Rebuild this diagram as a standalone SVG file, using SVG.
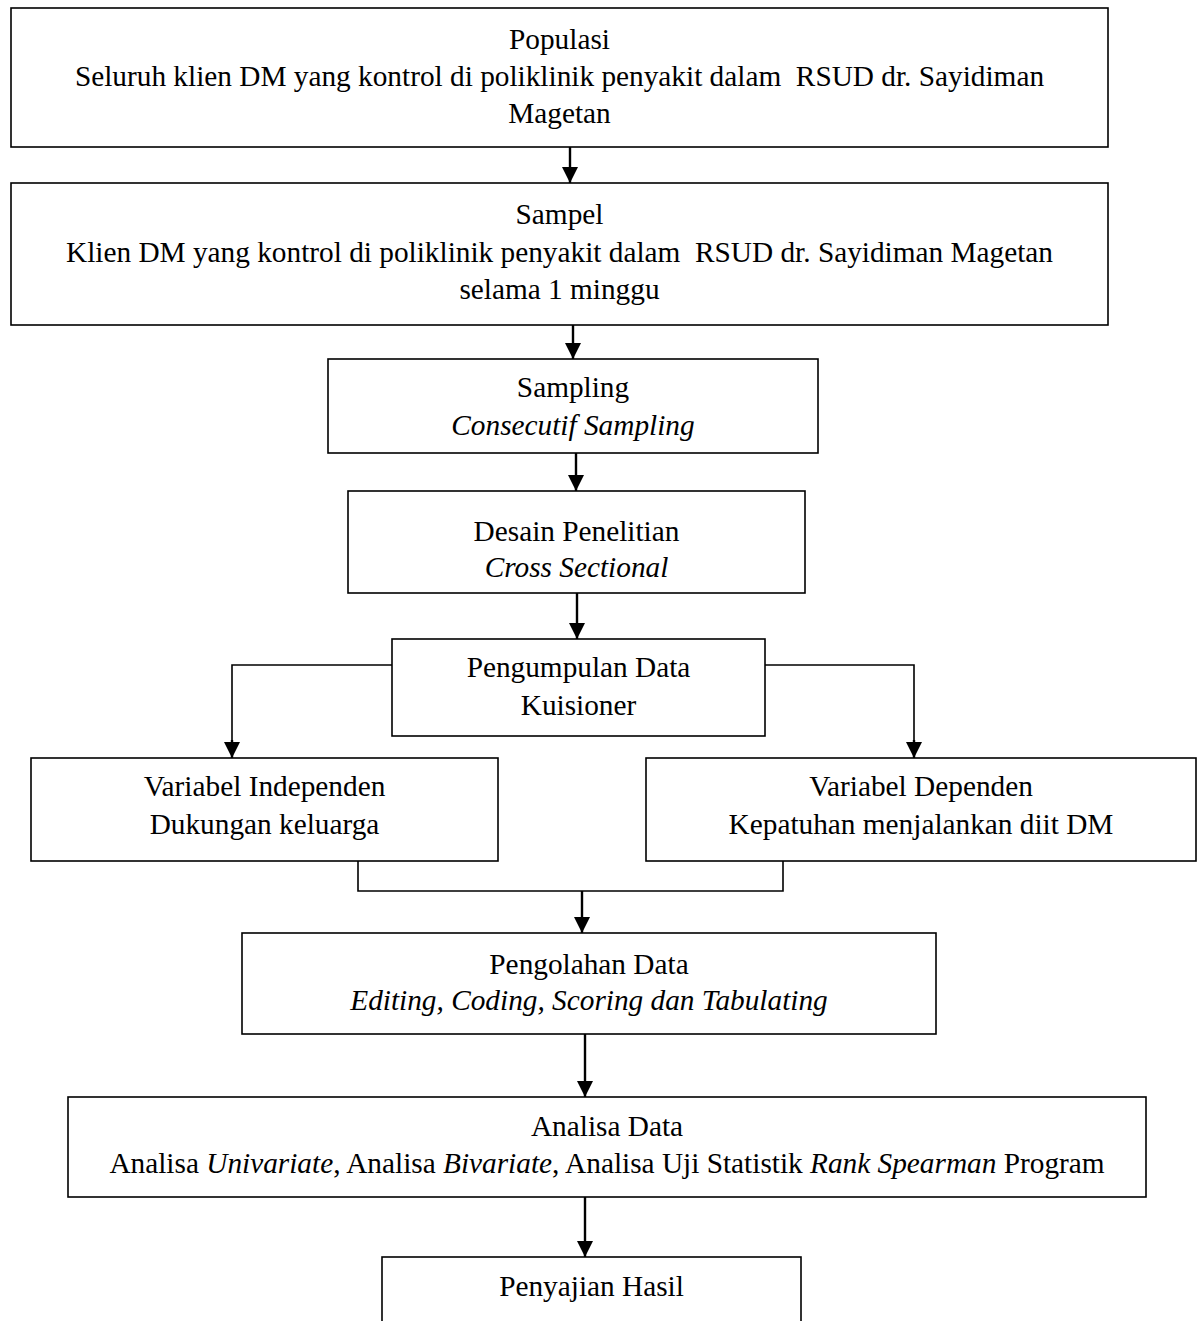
<svg xmlns="http://www.w3.org/2000/svg" width="1203" height="1321" viewBox="0 0 1203 1321">
<defs>
<marker id="ah" markerUnits="userSpaceOnUse" markerWidth="16" markerHeight="16" viewBox="0 0 16 16" refX="16" refY="8" orient="auto">
<path d="M0,0 L16,8 L0,16 Z" fill="#000"/>
</marker>
<style>
.box{fill:#fff;stroke:#000;stroke-width:1.6}
.t{font-family:"Liberation Serif","Times New Roman",serif;font-size:29.3px;fill:#000;text-anchor:middle;white-space:pre}
.i{font-style:italic}
.arr{fill:none;stroke:#000;stroke-width:2.4;marker-end:url(#ah)}
.ln{fill:none;stroke:#000;stroke-width:1.6}
</style>
</defs>
<rect width="1203" height="1321" fill="#fff"/>
<g id="connectors">
<line class="arr" x1="570" y1="147" x2="570" y2="183"/>
<line class="arr" x1="573" y1="325" x2="573" y2="359"/>
<line class="arr" x1="576" y1="453" x2="576" y2="491"/>
<line class="arr" x1="577" y1="593" x2="577" y2="639"/>
<polyline class="ln" points="392,665 232,665 232,742"/>
<line class="arr" x1="232" y1="740" x2="232" y2="758"/>
<polyline class="ln" points="765,665 914,665 914,742"/>
<line class="arr" x1="914" y1="740" x2="914" y2="758"/>
<polyline class="ln" points="358,861 358,891 783,891 783,861"/>
<line class="arr" x1="582" y1="891" x2="582" y2="933"/>
<line class="arr" x1="585" y1="1034" x2="585" y2="1097"/>
<line class="arr" x1="585" y1="1197" x2="585" y2="1257"/>
</g>
<g id="populasi">
<rect class="box" x="11" y="8" width="1097" height="139"/>
<text class="t" x="559.5" y="49">Populasi</text>
<text class="t" x="559.5" y="86">Seluruh klien DM yang kontrol di poliklinik penyakit dalam  RSUD dr. Sayidiman</text>
<text class="t" x="559.5" y="123">Magetan</text>
</g>
<g id="sampel">
<rect class="box" x="11" y="183" width="1097" height="142"/>
<text class="t" x="559.5" y="224">Sampel</text>
<text class="t" x="559.5" y="262">Klien DM yang kontrol di poliklinik penyakit dalam  RSUD dr. Sayidiman Magetan</text>
<text class="t" x="559.5" y="299">selama 1 minggu</text>
</g>
<g id="sampling">
<rect class="box" x="328" y="359" width="490" height="94"/>
<text class="t" x="573" y="397">Sampling</text>
<text class="t i" x="573" y="435">Consecutif Sampling</text>
</g>
<g id="desain">
<rect class="box" x="348" y="491" width="457" height="102"/>
<text class="t" x="576.5" y="541">Desain Penelitian</text>
<text class="t i" x="576.5" y="577">Cross Sectional</text>
</g>
<g id="pengumpulan">
<rect class="box" x="392" y="639" width="373" height="97"/>
<text class="t" x="578.5" y="677">Pengumpulan Data</text>
<text class="t" x="578.5" y="715">Kuisioner</text>
</g>
<g id="independen">
<rect class="box" x="31" y="758" width="467" height="103"/>
<text class="t" x="264.5" y="796">Variabel Independen</text>
<text class="t" x="264.5" y="834">Dukungan keluarga</text>
</g>
<g id="dependen">
<rect class="box" x="646" y="758" width="550" height="103"/>
<text class="t" x="921" y="796">Variabel Dependen</text>
<text class="t" x="921" y="834">Kepatuhan menjalankan diit DM</text>
</g>
<g id="pengolahan">
<rect class="box" x="242" y="933" width="694" height="101"/>
<text class="t" x="589" y="974">Pengolahan Data</text>
<text class="t i" x="589" y="1010">Editing, Coding, Scoring dan Tabulating</text>
</g>
<g id="analisa">
<rect class="box" x="68" y="1097" width="1078" height="100"/>
<text class="t" x="607" y="1136">Analisa Data</text>
<text class="t" x="607" y="1173">Analisa <tspan class="i">Univariate</tspan>, Analisa <tspan class="i">Bivariate</tspan>, Analisa Uji Statistik <tspan class="i">Rank Spearman</tspan> Program</text>
</g>
<g id="penyajian">
<rect class="box" x="382" y="1257" width="419" height="100"/>
<text class="t" x="591.5" y="1296">Penyajian Hasil</text>
</g>
</svg>
